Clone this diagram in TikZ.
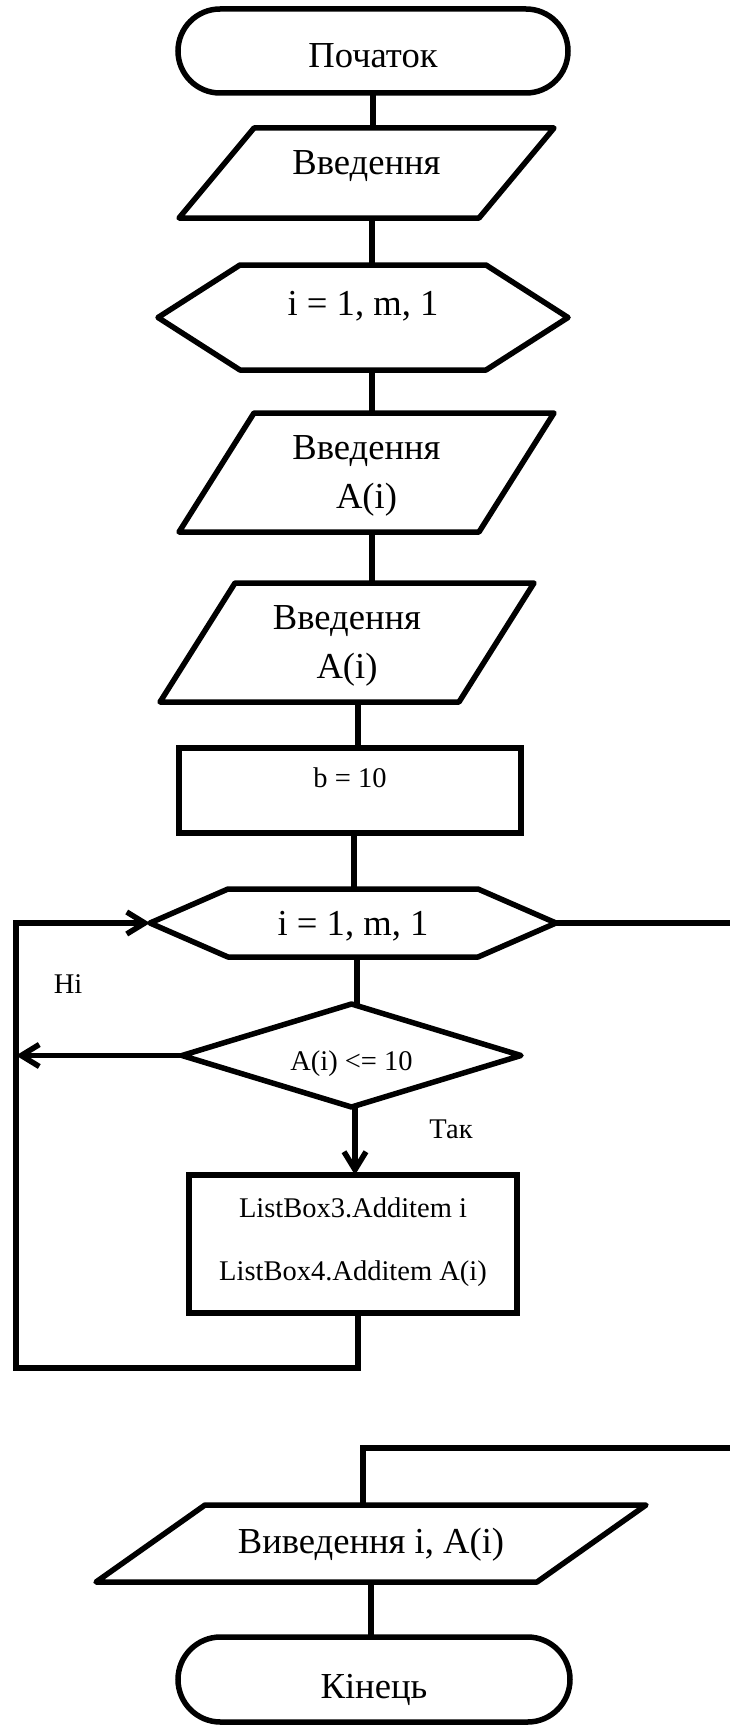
\documentclass[tikz,border=0pt]{standalone}
\usepackage{fontspec}
\setmainfont{Liberation Serif}
\newfontfamily\tnr{Liberation Serif}
\usetikzlibrary{calc,arrows.meta}
\newcommand\twolines[2]{\begin{tabular}[t]{@{}c@{}}#1\\#2\end{tabular}}
\newcommand\drawpara[2]{\draw[shp] ($(#1.north west)+(#2,0)$) -- (#1.north east) -- ($(#1.south east)-(#2,0)$) -- (#1.south west) -- cycle;}
\newcommand\drawhex[2]{\draw[shp] (#1.west) -- ($(#1.north west)+(#2,0)$) -- ($(#1.north east)-(#2,0)$) -- (#1.east) -- ($(#1.south east)-(#2,0)$) -- ($(#1.south west)+(#2,0)$) -- cycle;}
\newcommand\drawdiam[1]{\draw[shp] (#1.west) -- (#1.north) -- (#1.east) -- (#1.south) -- cycle;}
\begin{document}
\begin{tikzpicture}[x=1pt,y=-1pt,
  shp/.style={draw=black,line width=5.5pt,line join=round},
  ln/.style={draw=black,line width=5.5pt},
  arw/.style={-{Straight Barb[length=18pt,width=22pt]}},
  sbox/.style={inner sep=0pt,outer sep=0pt,minimum height=0pt},
  fbig/.style={font=\tnr\fontsize{36.6}{49}\selectfont},
  fsmall/.style={font=\tnr\fontsize{28.5}{34}\selectfont},
  term/.style={sbox,fbig,draw=black,line width=5.5pt}]
\useasboundingbox (0,0) rectangle (730,1726);
\fill[white] (0,0) rectangle (730,1726);
\clip (0,0) rectangle (730,1726);

% nodes
\node[term,rounded corners=42pt,minimum width=390pt,text height=59pt,text depth=25pt] (T1) at (373,51) {Початок};
\node[sbox,fbig,minimum width=375pt,text height=46pt,text depth=44pt] (P1) at (366.5,173) {Введення};
\node[sbox,fbig,minimum width=410pt,text height=50pt,text depth=55pt] (H1) at (363,317.5) {i = 1, m, 1};
\node[sbox,fbig,minimum width=375pt,text height=46pt,text depth=73pt] (P2) at (366.5,472.5) {\twolines{Введення}{A(i)}};
\node[sbox,fbig,minimum width=374pt,text height=46pt,text depth=73pt] (P3) at (347,642.5) {\twolines{Введення}{A(i)}};
\node[sbox,fsmall,draw=black,line width=5.5pt,minimum width=342pt,text height=39pt,text depth=46pt] (B1) at (350,790.5) {b = 10};
\node[sbox,fbig,minimum width=406pt,text height=46pt,text depth=22pt] (H2) at (353,923) {i = 1, m, 1};
\node[sbox,fsmall,minimum width=339pt,text height=66pt,text depth=37pt] (D1) at (351.5,1055.5) {A(i) <= 10};
\node[sbox,font=\tnr\fontsize{28.5}{63}\selectfont,draw=black,line width=5.5pt,minimum width=328pt,text height=42pt,text depth=96pt] (L1) at (353,1244) {\twolines{ListBox3.Additem i}{ListBox4.Additem A(i)}};
\node[sbox,fbig,minimum width=550pt,text height=48pt,text depth=29pt] (P4) at (371,1543.5) {Виведення i, A(i)};
\node[term,rounded corners=42.5pt,minimum width=392pt,text height=61pt,text depth=24pt] (T2) at (374,1679.5) {Кінець};

\node[fsmall,anchor=base,inner sep=0pt] (no) at (68,993) {Ні};
\node[fsmall,anchor=base,inner sep=0pt] (yes) at (451,1138) {Так};

% outlines
\drawpara{P1}{75}
\drawhex{H1}{82}
\drawpara{P2}{75}
\drawpara{P3}{75}
\drawhex{H2}{78}
\drawdiam{D1}
\drawpara{P4}{109}

% connectors
\coordinate (lb) at (16,1368);
\coordinate (rx) at (742,922);
\coordinate (jn) at (363,1448);
\draw[ln] (T1.south) -- (T1.south |- P1.north);
\draw[ln] ([xshift=5.5]P1.south) -- ([xshift=5.5]P1.south |- H1.north);
\draw[ln] ([xshift=9]H1.south) -- ([xshift=9]H1.south |- P2.north);
\draw[ln] ([xshift=5.5]P2.south) -- ([xshift=5.5]P2.south |- P3.north);
\draw[ln] ([xshift=11]P3.south) -- ([xshift=11]P3.south |- B1.north);
\draw[ln] ([xshift=4]B1.south) -- ([xshift=4]B1.south |- H2.north);
\draw[ln] ([xshift=4]H2.south) -- ([xshift=4]H2.south |- D1.north);
\draw[ln,arw] ([xshift=3.5]D1.south) -- ([xshift=3.5]D1.south |- L1.north);
\draw[ln,arw] (D1.west) -- (D1.west -| lb);
\draw[ln,arw] ([xshift=5]L1.south) -- ([xshift=5]L1.south |- lb) -- (lb) -- (lb |- H2.west) -- (H2.west);
\draw[ln] (H2.east) -- (H2.east -| rx) -- (rx |- jn) -- (jn) -- (jn |- P4.north);
\draw[ln] (P4.south) -- (P4.south |- T2.north);
\end{tikzpicture}
\end{document}
